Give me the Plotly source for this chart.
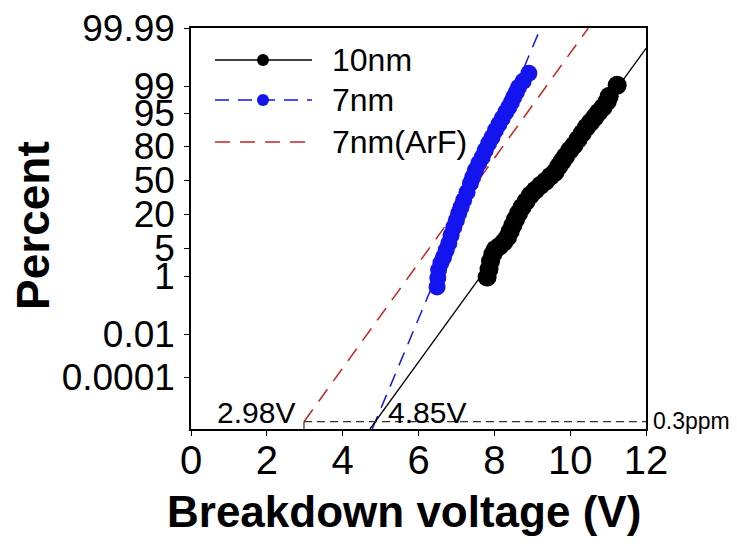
import plotly.graph_objects as go

# ---------------- data ----------------
# y values are positions on the (probability) percent scale of the plot
v_10nm = [7.81, 7.86, 7.90, 7.96, 8.03, 8.14, 8.25, 8.35, 8.42, 8.49, 8.56, 8.64, 8.73,
          8.84, 8.95, 9.08, 9.22, 9.35, 9.48, 9.60, 9.70, 9.79, 9.88, 9.99, 10.10, 10.21,
          10.32, 10.43, 10.54, 10.65, 10.75, 10.87, 10.98, 11.03, 11.24]
y_10nm = [152, 160, 168, 175, 180, 183, 187, 192, 198, 204, 210, 216, 222,
          228, 234, 239, 244, 248, 253, 257, 263, 268, 273, 279, 284, 290,
          296, 302, 307, 312, 317, 322, 328, 333, 344]

v_7nm = [6.49, 6.51, 6.53, 6.59, 6.66, 6.73, 6.80, 6.86, 6.93, 7.00, 7.06, 7.12, 7.19,
         7.28, 7.37, 7.43, 7.50, 7.59, 7.68, 7.76, 7.85, 7.94, 8.03, 8.12, 8.21, 8.30,
         8.38, 8.45, 8.51, 8.58, 8.64, 8.76, 8.91]
y_7nm = [142, 151, 159, 166, 172, 179, 186, 194, 202, 209, 216, 222, 229,
         237, 246, 252, 259, 266, 272, 279, 286, 292, 299, 305, 311, 317,
         322, 327, 332, 337, 342, 348, 356]

fit_10nm_v = [4.72, 12.0]
fit_10nm_y = [0.0, 381.0]
fit_7nm_v = [4.78, 9.22]
fit_7nm_y = [0.0, 401.3]
fit_arf_v = [2.98, 10.48]
fit_arf_y = [7.3, 401.3]

ppm_v = [2.98, 12.0]
ppm_y = [7.3, 7.3]
ppm_label = "0.3ppm"

tick_pos = [401.3, 343, 316, 283, 249, 215, 181, 153, 95, 52]
tick_text = ["99.99", "99", "95", "80", "50", "20", "5", "1", "0.01", "0.0001"]
x_ticks = [0, 2, 4, 6, 8, 10, 12]

BLUE = "#1414EE"
RED = "#CC2222"
FONT = "Arial, Liberation Sans, sans-serif"

fig = go.Figure()

# fit lines
fig.add_trace(go.Scatter(x=fit_arf_v, y=fit_arf_y, mode="lines",
                         line=dict(color=RED, width=1.5, dash="15px,10px"), showlegend=False))
fig.add_trace(go.Scatter(x=fit_7nm_v, y=fit_7nm_y, mode="lines",
                         line=dict(color=BLUE, width=1.5, dash="14px,9px"), showlegend=False))
fig.add_trace(go.Scatter(x=fit_10nm_v, y=fit_10nm_y, mode="lines",
                         line=dict(color="black", width=1.3), showlegend=False))
# 0.3 ppm reference
fig.add_trace(go.Scatter(x=ppm_v, y=ppm_y, mode="lines",
                         line=dict(color="#333333", width=1.3, dash="8px,5px"), showlegend=False))
fig.add_trace(go.Scatter(x=[ppm_v[0], ppm_v[0]], y=[0, ppm_y[0]], mode="lines",
                         line=dict(color="#333333", width=1.2), showlegend=False))

# data
fig.add_trace(go.Scatter(x=v_7nm, y=y_7nm, mode="markers",
                         marker=dict(color=BLUE, size=17, line=dict(width=0)), showlegend=False))
fig.add_trace(go.Scatter(x=v_10nm, y=y_10nm, mode="markers",
                         marker=dict(color="black", size=19, line=dict(width=0)), showlegend=False))

# ---------------- manual legend ----------------
def px2x(px):
    return (px - 191) / 455.0

def py2y(py):
    return (429 - py) / 401.0

shapes = []
annotations = []
rows = [("10nm", "black", "solid", True, 60),
        ("7nm", BLUE, "14px,9px", True, 100),
        ("7nm(ArF)", RED, "15px,10px", False, 142)]
for name, col, dash, mk, py in rows:
    shapes.append(dict(type="line", xref="paper", yref="paper",
                       x0=px2x(215), x1=px2x(312), y0=py2y(py), y1=py2y(py),
                       line=dict(color=col, width=1.5, dash=dash)))
    if mk:
        shapes.append(dict(type="circle", xref="paper", yref="paper",
                           xsizemode="pixel", ysizemode="pixel",
                           xanchor=px2x(263), yanchor=py2y(py),
                           x0=-6, x1=6, y0=-6, y1=6,
                           fillcolor=col, line=dict(color=col, width=0)))
    annotations.append(dict(text=name, xref="paper", yref="paper",
                            x=px2x(330), y=py2y(py), xanchor="left", yanchor="middle",
                            showarrow=False, font=dict(size=32, color="black", family=FONT)))

# voltage labels
annotations.append(dict(text="2.98V", x=fit_arf_v[0], y=17, xref="x", yref="y",
                        xanchor="right", yanchor="middle", xshift=-7, showarrow=False,
                        font=dict(size=30, color="black", family=FONT)))
annotations.append(dict(text="4.85V", x=4.85, y=17, xref="x", yref="y",
                        xanchor="left", yanchor="middle", xshift=11, showarrow=False,
                        font=dict(size=30, color="black", family=FONT)))
annotations.append(dict(text=ppm_label, x=1, y=ppm_y[0], xref="paper", yref="y",
                        xanchor="left", yanchor="middle", xshift=5, yshift=1, showarrow=False,
                        font=dict(size=23, color="black", family=FONT)))
# axis titles
annotations.append(dict(text="<b>Percent</b>", x=px2x(33), y=py2y(226), xref="paper", yref="paper",
                        textangle=-90, showarrow=False, xanchor="center", yanchor="middle",
                        font=dict(size=46, color="black", family=FONT)))
annotations.append(dict(text="<b>Breakdown voltage (V)</b>", x=px2x(404), y=py2y(512),
                        xref="paper", yref="paper", showarrow=False,
                        xanchor="center", yanchor="middle",
                        font=dict(size=44, color="black", family=FONT)))

# the page body adds an 8px offset; size and margins compensate so the figure ends
# exactly at the window edge and the plot area sits at page pixels x 191..646, y 28..429
fig.update_layout(
    width=729, height=540, autosize=False,
    margin=dict(l=183, r=91, t=20, b=119, autoexpand=False),
    paper_bgcolor="white", plot_bgcolor="white",
    font=dict(family=FONT, color="black"),
    shapes=shapes, annotations=annotations,
    showlegend=False,
)
fig.update_xaxes(range=[0, 12], tickvals=x_ticks, ticks="outside", ticklen=5, tickwidth=1.3,
                 tickcolor="black", showline=True, linecolor="black", linewidth=1.5,
                 mirror=True, showgrid=False, zeroline=False, automargin=False,
                 ticklabelstandoff=-10, ticklabeloverflow="allow",
                 tickfont=dict(size=40, family=FONT, color="black"))
fig.update_yaxes(range=[0, 401.3], tickvals=tick_pos, ticktext=tick_text, ticks="outside",
                 ticklen=5, tickwidth=1.3, tickcolor="black", showline=True, linecolor="black",
                 linewidth=1.5, mirror=True, showgrid=False, zeroline=False, automargin=False,
                 ticklabelstandoff=2, ticklabeloverflow="allow",
                 tickfont=dict(size=37, family=FONT, color="black"))

fig.write_html("out.html")
